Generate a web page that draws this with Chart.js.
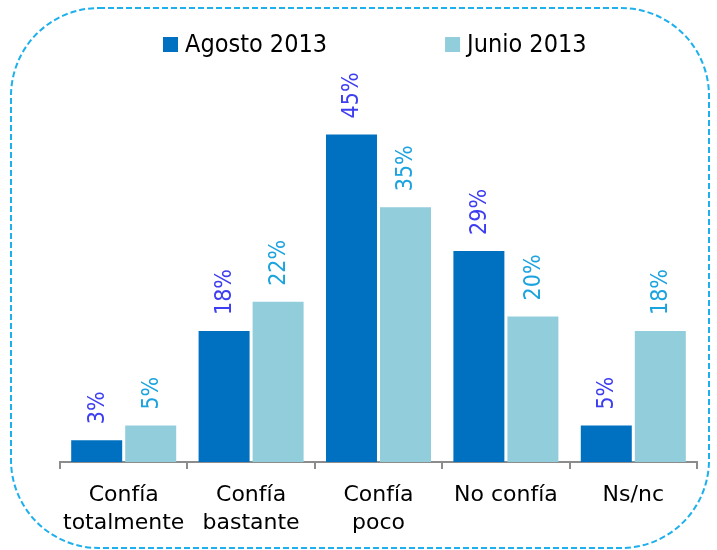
<!DOCTYPE html>
<html>
<head>
<meta charset="utf-8">
<script src="https://cdn.jsdelivr.net/npm/chart.js@4/dist/chart.umd.min.js"></script>
<style>
  html, body { margin: 0; padding: 0; background: #fff; }
  #wrap { width: 717px; height: 550px; }
</style>
</head>
<body>
<div id="wrap"><canvas id="chart" width="717" height="550"></canvas></div>
<script>
// ---- data ----
const categories = [['Confía', 'totalmente'], ['Confía', 'bastante'], ['Confía', 'poco'], 'No confía', 'Ns/nc'];
const seriesNames = ['Agosto 2013', 'Junio 2013'];
const agosto = [3, 18, 45, 29, 5];
const junio = [5, 22, 35, 20, 18];

const COLORS = {
  agosto: '#0070C0',
  junio: '#92CDDC',
  agostoLabel: '#3D3DF2',
  junioLabel: '#1BA3DF',
  axis: '#8C8C8C',
  frame: '#1DB0EC',
};

// dashed rounded frame around the whole chart
const framePlugin = {
  id: 'frame',
  beforeDraw(chart) {
    const ctx = chart.ctx;
    ctx.save();
    ctx.strokeStyle = COLORS.frame;
    ctx.lineWidth = 2;
    ctx.setLineDash([6, 3]);
    ctx.beginPath();
    ctx.roundRect(11, 8, 698, 540, 88);
    ctx.stroke();
    ctx.restore();
  }
};

// rotated value labels above the bars
const valueLabels = {
  id: 'valueLabels',
  afterDatasetsDraw(chart) {
    const ctx = chart.ctx;
    chart.data.datasets.forEach((ds, i) => {
      const meta = chart.getDatasetMeta(i);
      meta.data.forEach((bar, j) => {
        ctx.save();
        ctx.translate(bar.x + 1, bar.y - 16);
        ctx.rotate(-Math.PI / 2);
        ctx.font = "23px 'DejaVu Sans Condensed'";
        ctx.fillStyle = ds.labelColor;
        ctx.textAlign = 'left';
        ctx.textBaseline = 'middle';
        ctx.fillText(ds.data[j] + '%', 0, 0);
        ctx.restore();
      });
    });
  }
};

// legend drawn by hand so the item spacing matches
const topLegend = {
  id: 'topLegend',
  afterDraw(chart) {
    const ctx = chart.ctx;
    ctx.save();
    ctx.font = "25px 'DejaVu Sans Condensed'";
    ctx.textBaseline = 'middle';
    ctx.textAlign = 'left';
    let x = 163;
    const y = 44;
    chart.data.datasets.forEach((ds) => {
      ctx.fillStyle = ds.backgroundColor;
      ctx.fillRect(x, y - 7, 15, 15);
      ctx.fillStyle = '#000';
      ctx.fillText(ds.label, x + 22, y + 1);
      x += 22 + ctx.measureText(ds.label).width + 118;
    });
    ctx.restore();
  }
};

new Chart(document.getElementById('chart'), {
  type: 'bar',
  data: {
    labels: categories,
    datasets: [
      { label: seriesNames[0], data: agosto, backgroundColor: COLORS.agosto, labelColor: COLORS.agostoLabel,
        categoryPercentage: 0.848, barPercentage: 0.944 },
      { label: seriesNames[1], data: junio, backgroundColor: COLORS.junio, labelColor: COLORS.junioLabel,
        categoryPercentage: 0.848, barPercentage: 0.944 },
    ]
  },
  options: {
    responsive: false,
    animation: false,
    layout: { padding: { left: 60, right: 20, top: 98, bottom: 0 } },
    plugins: {
      legend: { display: false },
      tooltip: { enabled: false }
    },
    scales: {
      x: {
        afterFit: (scale) => { scale.height = 88; },
        grid: { display: true, drawOnChartArea: false, drawTicks: true, tickLength: 7, color: COLORS.axis, lineWidth: 2 },
        border: { display: true, color: COLORS.axis, width: 2 },
        ticks: { color: '#000', padding: 12, font: { family: "'DejaVu Sans'", size: 22, lineHeight: 1.27 }, maxRotation: 0 }
      },
      y: { display: false, min: 0, max: 50 }
    }
  },
  plugins: [framePlugin, valueLabels, topLegend]
});
</script>
</body>
</html>
